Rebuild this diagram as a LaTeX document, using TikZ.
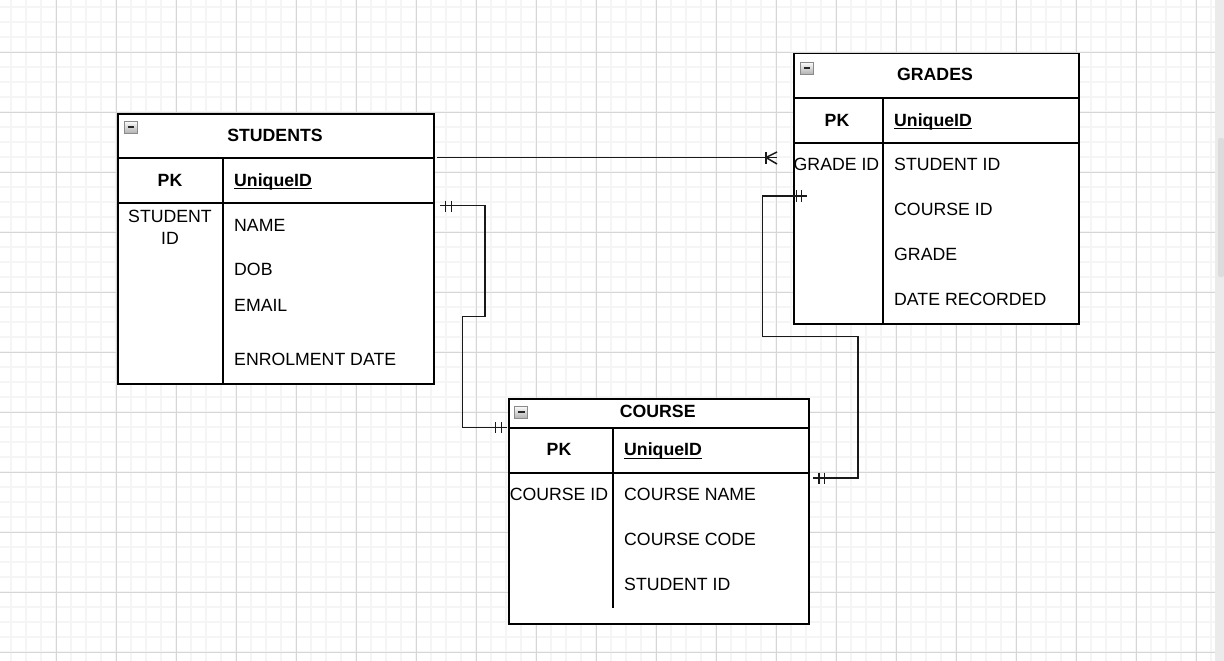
\documentclass[tikz,border=0pt]{standalone}
\usepackage{fontspec}
\setmainfont{Liberation Sans}
\definecolor{minorgrid}{HTML}{F5F5F5}
\definecolor{majorgrid}{HTML}{D6D6D6}
\definecolor{scrollbg}{HTML}{EBEBEB}
\definecolor{scrollthumb}{HTML}{DCDCDC}
\definecolor{iconfill}{HTML}{CFCFCF}
\definecolor{iconedge}{HTML}{8A8A8A}
\begin{document}
\begin{tikzpicture}[x=1pt,y=-1pt,
  every node/.style={inner sep=0pt, font=\fontsize{17.7}{21}\selectfont},
  tbl/.style={draw=black, line width=1.5pt, anchor=north west, inner sep=0pt},
  rule/.style={line width=1.5pt, draw=black},
  lbl/.style={anchor=base west},
  clbl/.style={anchor=base},
  ttl/.style={anchor=base, font=\fontsize{17.7}{21}\selectfont\bfseries},
  conn/.style={line width=1.5pt, draw=black!90},
  icon/.style={draw=iconedge, top color=white!90!iconfill, bottom color=iconfill!85!black, line width=0.9pt, minimum width=13pt, minimum height=12pt, anchor=north west},
  uline/.style={line width=1.4pt, draw=black}]
\fill[white] (0,0) rectangle (1224,661);
\useasboundingbox (0,0) rectangle (1224,661);
% grid
\foreach \x in {11,26,...,1211} \draw[minorgrid,line width=1.5pt] (\x,0) -- (\x,661);
\foreach \y in {7,22,...,657} \draw[minorgrid,line width=1.5pt] (0,\y) -- (1215,\y);
\foreach \x in {56,116,...,1196} \draw[majorgrid,line width=0.9pt] (\x,0) -- (\x,661);
\foreach \y in {52,112,...,652} \draw[majorgrid,line width=0.9pt] (0,\y) -- (1215,\y);
% scrollbar
\fill[scrollbg] (1215,0) rectangle (1224,661);
\fill[scrollthumb, rounded corners=2pt] (1218,138) rectangle (1224,277);

% ---------------- STUDENTS ----------------
\node[tbl, minimum width=316pt, minimum height=270pt, fill=white] (students) at (117,113) {};
\draw[rule] (117,158) -- (433,158);
\draw[rule] (117,203) -- (433,203);
\draw[rule] (223,158) -- (223,383);
\node[icon] (stuicon) at (124,121) {};
\draw[line width=1.6pt, black!85] (127.5,127) -- (133.5,127);
\node[ttl] (stutitle) at (275,141) {STUDENTS};
\node[ttl] (stupk) at (170,186) {PK};
\node[lbl, font=\fontsize{17.7}{21}\selectfont\bfseries] (stuuid) at (234,186) {UniqueID};
\draw[uline] ([yshift=-2.5pt]stuuid.base west) -- ([yshift=-2.5pt]stuuid.base east);
\node[clbl] (stuid1) at (170,222.3) {STUDENT};
\node[clbl] (stuid2) at (170,244) {ID};
\node[lbl] (stuname) at (234,231) {NAME};
\node[lbl] (studob) at (234,275.7) {DOB};
\node[lbl] (stuemail) at (234,311.7) {EMAIL};
\node[lbl] (stuenrol) at (234,365.7) {ENROLMENT DATE};

% ---------------- GRADES ----------------
\node[tbl, minimum width=285pt, minimum height=270pt, fill=white] (grades) at (793,53) {};
\draw[rule] (793,98) -- (1078,98);
\draw[rule] (793,143) -- (1078,143);
\draw[rule] (883,98) -- (883,323);
\node[icon] (gradicon) at (800,62) {};
\draw[line width=1.6pt, black!85] (803.5,68) -- (809.5,68);
\node[ttl] (gradtitle) at (935,81) {GRADES};
\node[ttl] (gradpk) at (837,126) {PK};
\node[lbl, font=\fontsize{17.7}{21}\selectfont\bfseries] (graduid) at (894,126) {UniqueID};
\draw[uline] ([yshift=-2.5pt]graduid.base west) -- ([yshift=-2.5pt]graduid.base east);
\node[clbl] (gradid) at (836.5,170.7) {GRADE ID};
\node[lbl] (gradstu) at (894,170.7) {STUDENT ID};
\node[lbl] (gradcourse) at (894,215.7) {COURSE ID};
\node[lbl] (gradgrade) at (894,260.7) {GRADE};
\node[lbl] (graddate) at (894,305.7) {DATE RECORDED};

% ---------------- COURSE ----------------
\node[tbl, minimum width=300pt, minimum height=225pt, fill=white] (course) at (508,398) {};
\draw[rule] (508,428) -- (808,428);
\draw[rule] (508,473) -- (808,473);
\draw[rule] (613,428) -- (613,608);
\node[icon] (couricon) at (514,406) {};
\draw[line width=1.6pt, black!85] (517.5,412) -- (524.5,412);
\node[ttl] (courtitle) at (657.7,417.3) {COURSE};
\node[ttl] (courpk) at (559,455.7) {PK};
\node[lbl, font=\fontsize{17.7}{21}\selectfont\bfseries] (couruid) at (624,455.7) {UniqueID};
\draw[uline] ([yshift=-2.5pt]couruid.base west) -- ([yshift=-2.5pt]couruid.base east);
\node[clbl] (courid) at (559,500.7) {COURSE ID};
\node[lbl] (courname) at (624,500.7) {COURSE NAME};
\node[lbl] (courcode) at (624,545.7) {COURSE CODE};
\node[lbl] (courstu) at (624,590.7) {STUDENT ID};

% ---------------- connectors ----------------
% STUDENTS -> GRADES (one to many)
\coordinate (c1s) at (437,157.5);
\coordinate (c1e) at (777,157.5);
\draw[conn] (c1s) -- (c1e);
\draw[conn] (766,152) -- (766,164);
\draw[conn] (777,152) -- (766,157.5) -- (777,164);

% STUDENTS -> COURSE (one to one)
\coordinate (c2s) at (440,205.7);
\coordinate (c2e) at (507,427.7);
\draw[conn] (c2s) -- (485,205.7) -- (485,316.7) -- (462.5,316.7) -- (462.5,427.7) -- (c2e);
\draw[conn] (445.7,200.5) -- (445.7,211.5);
\draw[conn] (451.7,200.5) -- (451.7,211.5);
\draw[conn] (495.7,422) -- (495.7,433);
\draw[conn] (501.7,422) -- (501.7,433);

% GRADES -> COURSE (one to one)
\coordinate (c3s) at (806.7,196);
\coordinate (c3e) at (812.7,478);
\draw[conn] (c3s) -- (762.7,196) -- (762.7,336.7) -- (858,336.7) -- (858,478) -- (c3e);
\draw[conn] (796.7,190) -- (796.7,202);
\draw[conn] (801.7,190) -- (801.7,202);
\draw[conn] (819,472.5) -- (819,484);
\draw[conn] (824.3,472.5) -- (824.3,484);
\end{tikzpicture}
\end{document}
